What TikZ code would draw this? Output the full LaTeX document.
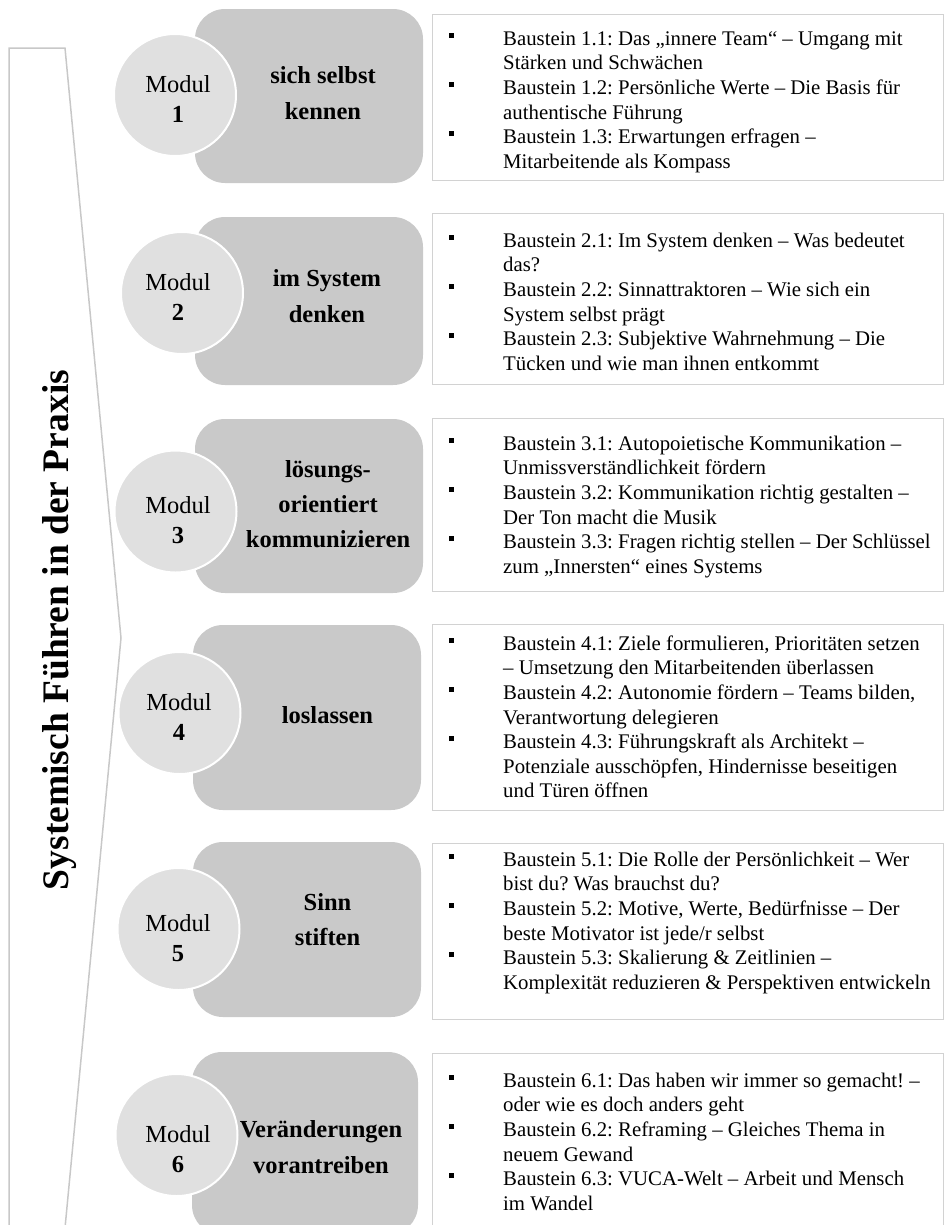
\documentclass[tikz,border=0pt]{standalone}
\usepackage{fontspec}
\setmainfont{Liberation Serif}
\frenchspacing
\definecolor{modgray}{HTML}{C9C9C9}
\definecolor{circgray}{HTML}{E0E0E0}
\definecolor{linegray}{HTML}{C8C8C8}
\definecolor{boxline}{HTML}{D2D2D2}
\newcommand{\bul}{\llap{\rule[7.5bp]{4.8bp}{4.8bp}\hspace{49bp}}}
\newcommand{\tstr}{\rule{0pt}{20bp}}
\newcommand{\mstr}{\rule{0pt}{24bp}}
\tikzset{
  modrect/.style={rectangle, fill=modgray, draw=none, rounded corners=30bp, inner sep=0pt, minimum width=228bp},
  modcirc/.style={circle, fill=circgray, draw=white, line width=2bp, inner sep=0pt, minimum size=122bp},
  txtbox/.style={rectangle, draw=boxline, line width=1bp, fill=white, inner sep=0pt, minimum width=511bp},
  bultext/.style={anchor=north west, inner sep=0pt, align=left, font=\fontsize{20.8bp}{24.6bp}\selectfont},
  modtitle/.style={anchor=north, inner sep=0pt, align=center, font=\bfseries\fontsize{24.5bp}{36bp}\selectfont},
  modlabel/.style={anchor=north, inner sep=0pt, align=center, font=\fontsize{24.5bp}{30bp}\selectfont},
}
\begin{document}
\begin{tikzpicture}[x=1bp,y=-1bp]
\useasboundingbox (0,0) rectangle (944,1225);
\clip (0,0) rectangle (944,1225);

% title chevron
\draw[linegray, line width=1.5bp] (9,48) -- (65,48) -- (121,638) -- (65,1228) -- (9,1228) -- cycle;
\node[rotate=90, anchor=base, inner sep=0pt, font=\bfseries\fontsize{37.5bp}{40bp}\selectfont] (title) at (68,630) {Systemisch Führen in der Praxis};

% module 1
\node[modrect, minimum height=174bp] (m1r) at (309,96) {};
\node[modcirc] (m1c) at (175,95) {};
\node[modlabel] (m1l) at (178,68) {\mstr Modul\\\textbf{1}};
\node[modtitle] (m1t) at (323,59) {\mstr sich selbst\\kennen};
\node[txtbox, minimum height=166bp] (b1) at (687.5,97) {};
\node[bultext] (b1t) at (503,25) {\tstr\bul Baustein 1.1: Das „innere Team“ – Umgang mit\\Stärken und Schwächen\\\bul Baustein 1.2: Persönliche Werte – Die Basis für\\authentische Führung\\\bul Baustein 1.3: Erwartungen erfragen –\\Mitarbeitende als Kompass};

% module 2
\node[modrect, minimum height=168bp] (m2r) at (309,301) {};
\node[modcirc] (m2c) at (182,293) {};
\node[modlabel] (m2l) at (178,266) {\mstr Modul\\\textbf{2}};
\node[modtitle] (m2t) at (327,262) {\mstr im System\\denken};
\node[txtbox, minimum height=171bp] (b2) at (687.5,298.5) {};
\node[bultext] (b2t) at (503,227) {\tstr\bul Baustein 2.1: Im System denken – Was bedeutet\\das?\\\bul Baustein 2.2: Sinnattraktoren – Wie sich ein\\System selbst prägt\\\bul Baustein 2.3: Subjektive Wahrnehmung – Die\\Tücken und wie man ihnen entkommt};

% module 3
\node[modrect, minimum height=174bp] (m3r) at (309,506) {};
\node[modcirc] (m3c) at (175.5,511.5) {};
\node[modlabel] (m3l) at (178,489) {\mstr Modul\\\textbf{3}};
\node[modtitle, font=\bfseries\fontsize{24.5bp}{35bp}\selectfont] (m3t) at (328,453) {\mstr lösungs-\\orientiert\\kommunizieren};
\node[txtbox, minimum height=173bp] (b3) at (687.5,504.5) {};
\node[bultext] (b3t) at (503,430) {\tstr\bul Baustein 3.1: Autopoietische Kommunikation –\\Unmissverständlichkeit fördern\\\bul Baustein 3.2: Kommunikation richtig gestalten –\\Der Ton macht die Musik\\\bul Baustein 3.3: Fragen richtig stellen – Der Schlüssel\\zum „Innersten“ eines Systems};

% module 4
\node[modrect, minimum height=185bp] (m4r) at (307,717.5) {};
\node[modcirc] (m4c) at (179.5,713) {};
\node[modlabel] (m4l) at (179,686) {\mstr Modul\\\textbf{4}};
\node[modtitle] (m4t) at (327.5,699) {\mstr loslassen};
\node[txtbox, minimum height=186bp] (b4) at (687.5,717) {};
\node[bultext] (b4t) at (503,630) {\tstr\bul Baustein 4.1: Ziele formulieren, Prioritäten setzen\\– Umsetzung den Mitarbeitenden überlassen\\\bul Baustein 4.2: Autonomie fördern – Teams bilden,\\Verantwortung delegieren\\\bul Baustein 4.3: Führungskraft als Architekt –\\Potenziale ausschöpfen, Hindernisse beseitigen\\und Türen öffnen};

% module 5
\node[modrect, minimum height=175bp] (m5r) at (307,929.5) {};
\node[modcirc] (m5c) at (178.5,929) {};
\node[modlabel] (m5l) at (178,907) {\mstr Modul\\\textbf{5}};
\node[modtitle, font=\bfseries\fontsize{24.5bp}{35bp}\selectfont] (m5t) at (327.5,886) {\mstr Sinn\\stiften};
\node[txtbox, minimum height=176bp] (b5) at (687.5,931) {};
\node[bultext] (b5t) at (503,846) {\tstr\bul Baustein 5.1: Die Rolle der Persönlichkeit – Wer\\bist du? Was brauchst du?\\\bul Baustein 5.2: Motive, Werte, Bedürfnisse – Der\\beste Motivator ist jede/r selbst\\\bul Baustein 5.3: Skalierung \& Zeitlinien –\\Komplexität reduzieren \& Perspektiven entwickeln};

% module 6
\node[modrect, minimum width=226bp, minimum height=183bp] (m6r) at (305,1143.5) {};
\node[modcirc] (m6c) at (176.5,1135) {};
\node[modlabel] (m6l) at (178,1118) {\mstr Modul\\\textbf{6}};
\node[modtitle] (m6t) at (321,1113) {\mstr Veränderungen\\vorantreiben};
\node[txtbox, minimum height=187bp] (b6) at (687.5,1146.5) {};
\node[bultext] (b6t) at (503,1067) {\tstr\bul Baustein 6.1: Das haben wir immer so gemacht! –\\oder wie es doch anders geht\\\bul Baustein 6.2: Reframing – Gleiches Thema in\\neuem Gewand\\\bul Baustein 6.3: VUCA-Welt – Arbeit und Mensch\\im Wandel};
\end{tikzpicture}
\end{document}
